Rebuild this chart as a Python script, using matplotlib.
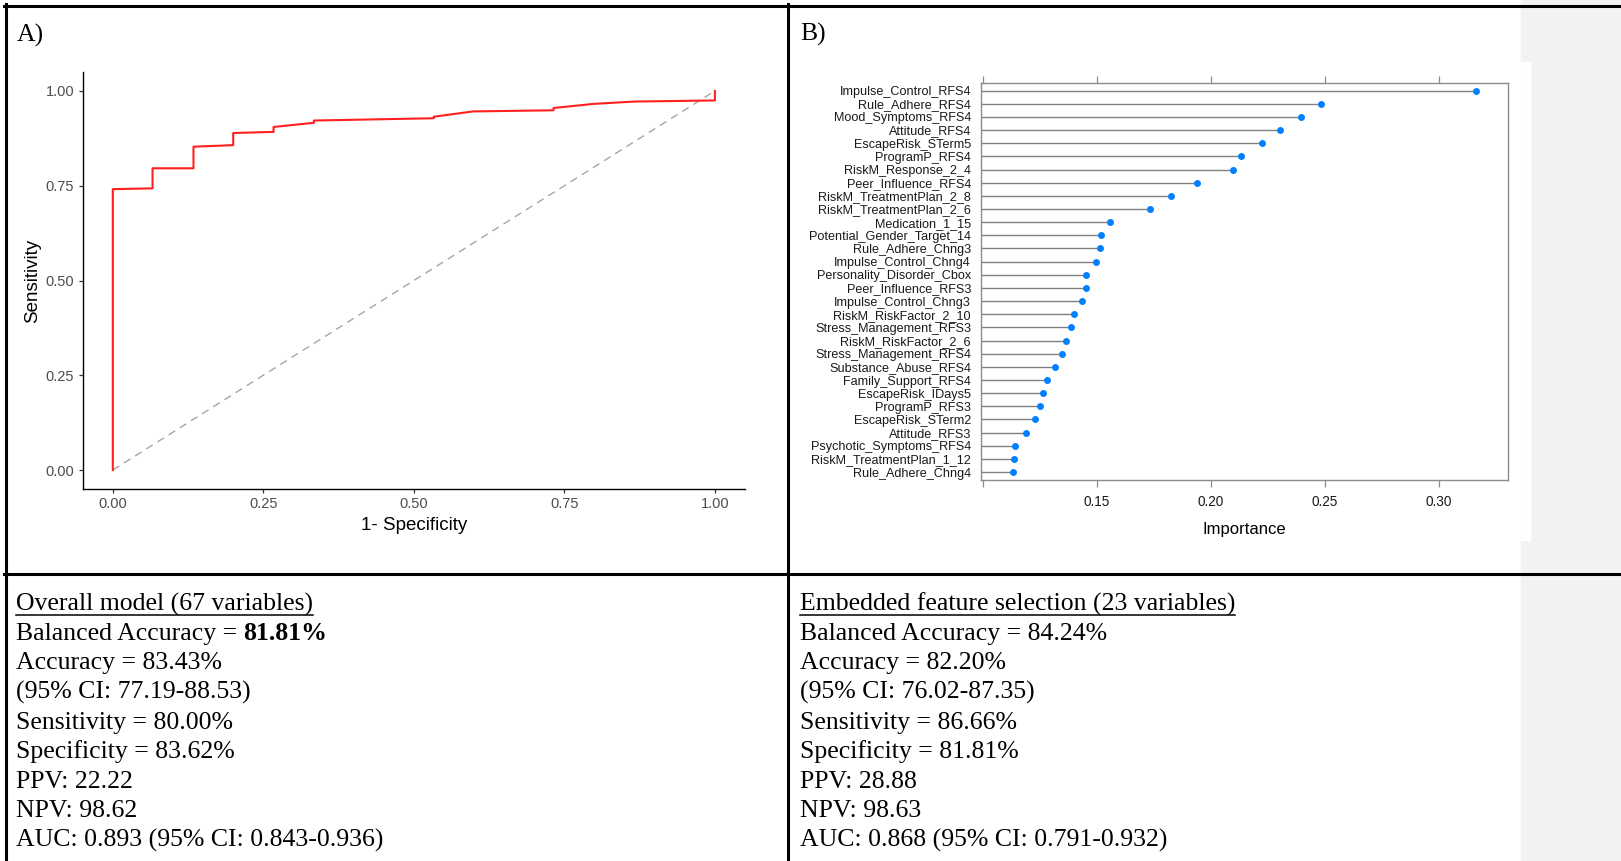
import numpy as np
import matplotlib
matplotlib.use("Agg")
import matplotlib.pyplot as plt
from matplotlib.patches import Rectangle
from matplotlib.lines import Line2D

# ROC curve (panel A)
fpr = [0.000, 0.000, 0.066, 0.066, 0.134, 0.134, 0.200, 0.200, 0.267, 0.267, 0.334,
       0.334, 0.533, 0.533, 0.598, 0.732, 0.732, 0.799, 0.866, 1.000, 1.000]
tpr = [0.000, 0.741, 0.743, 0.796, 0.796, 0.853, 0.857, 0.889, 0.892, 0.905, 0.916,
       0.922, 0.928, 0.932, 0.946, 0.949, 0.955, 0.966, 0.972, 0.975, 1.000]
roc_ticks = [0.00, 0.25, 0.50, 0.75, 1.00]

# variable importance (panel B)
features = ["Impulse_Control_RFS4", "Rule_Adhere_RFS4", "Mood_Symptoms_RFS4", "Attitude_RFS4",
            "EscapeRisk_STerm5", "ProgramP_RFS4", "RiskM_Response_2_4", "Peer_Influence_RFS4",
            "RiskM_TreatmentPlan_2_8", "RiskM_TreatmentPlan_2_6", "Medication_1_15",
            "Potential_Gender_Target_14", "Rule_Adhere_Chng3", "Impulse_Control_Chng4",
            "Personality_Disorder_Cbox", "Peer_Influence_RFS3", "Impulse_Control_Chng3",
            "RiskM_RiskFactor_2_10", "Stress_Management_RFS3", "RiskM_RiskFactor_2_6",
            "Stress_Management_RFS4", "Substance_Abuse_RFS4", "Family_Support_RFS4",
            "EscapeRisk_IDays5", "ProgramP_RFS3", "EscapeRisk_STerm2", "Attitude_RFS3",
            "Psychotic_Symptoms_RFS4", "RiskM_TreatmentPlan_1_12", "Rule_Adhere_Chng4"]
importance = [0.3162, 0.2485, 0.2397, 0.2304, 0.2226, 0.2134, 0.2098, 0.1940, 0.1826, 0.1735,
              0.1557, 0.1520, 0.1513, 0.1498, 0.1454, 0.1452, 0.1436, 0.1400, 0.1387, 0.1367,
              0.1346, 0.1316, 0.1283, 0.1263, 0.1250, 0.1231, 0.1190, 0.1142, 0.1136, 0.1132]
imp_ticks = [0.10, 0.15, 0.20, 0.25, 0.30]
imp_ticklabels = ["", "0.15", "0.20", "0.25", "0.30"]

# text under the plots
left_title = "Overall model (67 variables)"
left_bal = "81.81%"
left_lines = ["Accuracy = 83.43%", "(95% CI: 77.19-88.53)", "Sensitivity = 80.00%",
              "Specificity = 83.62%", "PPV: 22.22", "NPV: 98.62",
              "AUC: 0.893 (95% CI: 0.843-0.936)"]
right_title = "Embedded feature selection (23 variables)"
right_lines = ["Balanced Accuracy = 84.24%", "Accuracy = 82.20%", "(95% CI: 76.02-87.35)",
               "Sensitivity = 86.66%", "Specificity = 81.81%", "PPV: 28.88", "NPV: 98.63",
               "AUC: 0.868 (95% CI: 0.791-0.932)"]

W, H = 1621, 861
fig = plt.figure(figsize=(W / 100, H / 100), dpi=100)
fig.patch.set_facecolor("white")


def fx(x):
    return x / W


def fy(y):
    return 1 - y / H


# grey strip on the right + white edge of the pasted image
fig.add_artist(Rectangle((fx(1521), 0), 1 - fx(1521), 1, transform=fig.transFigure,
                         color="#f2f2f2", zorder=0))
fig.add_artist(Rectangle((fx(1521), fy(540)), fx(1530) - fx(1521), (540 - 62) / H,
                         transform=fig.transFigure, color="white", zorder=0))

# table borders
lw_b = 2.2
for xs, ys in [([4, W], [5.8, 5.8]), ([4, W], [573.7, 573.7]),
               ([5.8, 5.8], [4, H]), ([788.3, 788.3], [4, H])]:
    fig.add_artist(Line2D([fx(v) for v in xs], [fy(v) for v in ys], color="black",
                          lw=lw_b, transform=fig.transFigure, zorder=5))

serif = "Liberation Serif"
TXT = 18.5

fig.text(fx(17), fy(41.5), "A)", fontsize=TXT, family=serif, va="baseline")
fig.text(fx(800), fy(40.5), "B)", fontsize=TXT, family=serif, va="baseline")

# ---- A) ROC ----
ax1 = fig.add_axes([fx(82.7), fy(489), (745 - 82.7) / W, (489 - 72) / H])
ax1.plot([0, 1], [0, 1], color="#a6a6a6", lw=1.0, dashes=(5.5, 4))
ax1.plot(fpr, tpr, color="#ff2020", lw=1.5)
ax1.set_xlim(-0.05, 1.05)
ax1.set_ylim(-0.05, 1.05)
ax1.set_xticks(roc_ticks, [f"{v:.2f}" for v in roc_ticks])
ax1.set_yticks(roc_ticks, [f"{v:.2f}" for v in roc_ticks])
for s in ["top", "right"]:
    ax1.spines[s].set_visible(False)
for s in ["left", "bottom"]:
    ax1.spines[s].set_linewidth(1.0)
ax1.tick_params(length=3, width=0.9, pad=3, labelsize=10.5, labelcolor="#4d4d4d",
                color="#333333")
for t in ax1.get_xticklabels() + ax1.get_yticklabels():
    t.set_family("Liberation Sans")
ax1.set_xlabel("1- Specificity", fontsize=13.5, family="Liberation Sans", labelpad=4)
ax1.set_ylabel("Sensitivity", fontsize=13.5, family="Liberation Sans", labelpad=3)

# ---- B) importance dotplot ----
ax2 = fig.add_axes([fx(980.7), fy(480), (1508.3 - 980.7) / W, (480 - 82.7) / H])
ypos = np.arange(len(features))
ax2.set_xlim(0.0991, 0.3305)
ax2.set_ylim(len(features) - 1 + 0.6, -0.6)
x0 = ax2.get_xlim()[0]
ax2.hlines(ypos, x0, importance, color="#808080", lw=1.0)
ax2.plot(importance, ypos, "o", color="#0080ff", ms=5, mec="none")
ax2.set_xticks(imp_ticks, imp_ticklabels)
ax2.set_yticks(ypos, features)
for s in ax2.spines.values():
    s.set_color("#8c8c8c")
    s.set_linewidth(1.0)
ax2.tick_params(axis="x", top=True, direction="out", length=5, width=0.9,
                color="#8c8c8c", labelsize=9.8, pad=6)
ax2.tick_params(axis="y", length=0, pad=7, labelsize=9.1)
for t in ax2.get_xticklabels() + ax2.get_yticklabels():
    t.set_family("Liberation Sans")
    t.set_color("#1a1a1a")
ax2.set_xlabel("Importance", fontsize=12, family="Liberation Sans", labelpad=9)

# ---- bottom text blocks ----
base0 = 610.5
step = 29.5
xl, xr = 16, 800


def put(x, y, s, **kw):
    return fig.text(fx(x), fy(y), s, fontsize=TXT, family=serif, va="baseline",
                    ha="left", color="black", **kw)


tl = put(xl, base0, left_title)
tr = put(xr, base0, right_title)
bal = put(xl, base0 + step, "Balanced Accuracy =")
for i, s in enumerate(left_lines):
    put(xl, base0 + step * (i + 2), s)
for i, s in enumerate(right_lines):
    put(xr, base0 + step * (i + 1), s)

fig.canvas.draw()
r = fig.canvas.get_renderer()
probe1 = put(0, 0, "a a")
probe2 = put(0, 0, "aa")
sp = probe1.get_window_extent(r).width - probe2.get_window_extent(r).width
probe1.remove()
probe2.remove()
bb = bal.get_window_extent(r)
put(bb.x1 + sp, base0 + step, left_bal, weight="bold")

for t in (tl, tr):
    b = t.get_window_extent(r)
    fig.add_artist(Line2D([b.x0 / W, b.x1 / W], [fy(base0 + 4.5), fy(base0 + 4.5)],
                          color="black", lw=1.1, transform=fig.transFigure))

fig.savefig("out.png", dpi=100)
